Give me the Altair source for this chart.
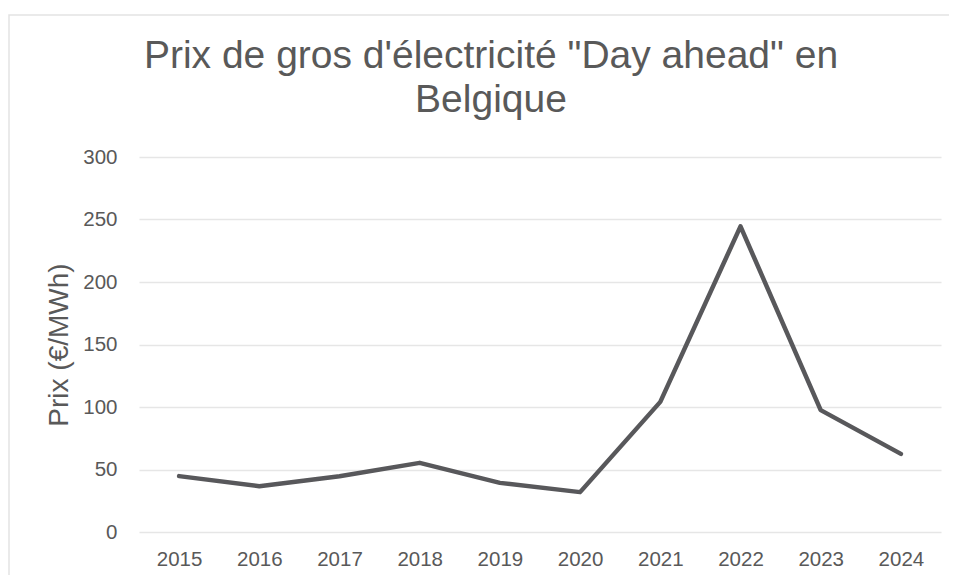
import altair as alt
import pandas as pd

years = ["2015", "2016", "2017", "2018", "2019", "2020", "2021", "2022", "2023", "2024"]
prices = [44.7, 36.6, 44.6, 55.3, 39.3, 31.9, 104.1, 244.5, 97.5, 62.5]
y_ticks = [0, 50, 100, 150, 200, 250, 300]
title_lines = ["Prix de gros d'électricité \"Day ahead\" en", "Belgique"]
y_title = "Prix (€/MWh)"

df = pd.DataFrame({"annee": years, "prix": prices})

TEXT = "#595959"
FONT = "Liberation Sans"

frame = alt.Chart(alt.Data(values=[{}])).mark_rect(
    filled=False, stroke="#e3e3e3", strokeWidth=1.5
).encode(
    x=alt.value(-130), x2=alt.value(845),
    y=alt.value(-142), y2=alt.value(460),
)

line = alt.Chart(df).mark_line(
    color="#58585b", strokeWidth=4.5, strokeCap="round", strokeJoin="round"
).encode(
    x=alt.X("annee:O", sort=years,
            scale=alt.Scale(type="point", padding=0.5),
            axis=alt.Axis(title=None, labelAngle=0, domain=False, ticks=False,
                          grid=False, labelFontSize=20.5, labelColor=TEXT,
                          labelFont=FONT, labelPadding=17)),
    y=alt.Y("prix:Q", scale=alt.Scale(domain=[0, 300], nice=False),
            axis=alt.Axis(title=y_title, values=y_ticks, domain=False, ticks=False,
                          grid=True, gridColor="#e6e6e6", gridWidth=1.3,
                          labelFontSize=20.5, labelColor=TEXT, labelFont=FONT,
                          labelPadding=22, titleFontSize=28, titleColor=TEXT,
                          titleFont=FONT, titleFontWeight="normal",
                          titlePadding=9)),
)

chart = alt.layer(frame, line).properties(
    width=802, height=375,
    autosize=alt.AutoSizeParams(type="none"),
    padding={"left": 131, "top": 149, "right": 8, "bottom": 43},
    title=alt.TitleParams(
        text=title_lines, fontSize=39, font=FONT, color=TEXT,
        fontWeight="normal", anchor="middle", dx=-49, offset=-137,
        baseline="alphabetic", lineHeight=44,
    ),
).configure_view(stroke=None)

chart.save("out.html", embed_options={"renderer": "svg", "actions": False})
